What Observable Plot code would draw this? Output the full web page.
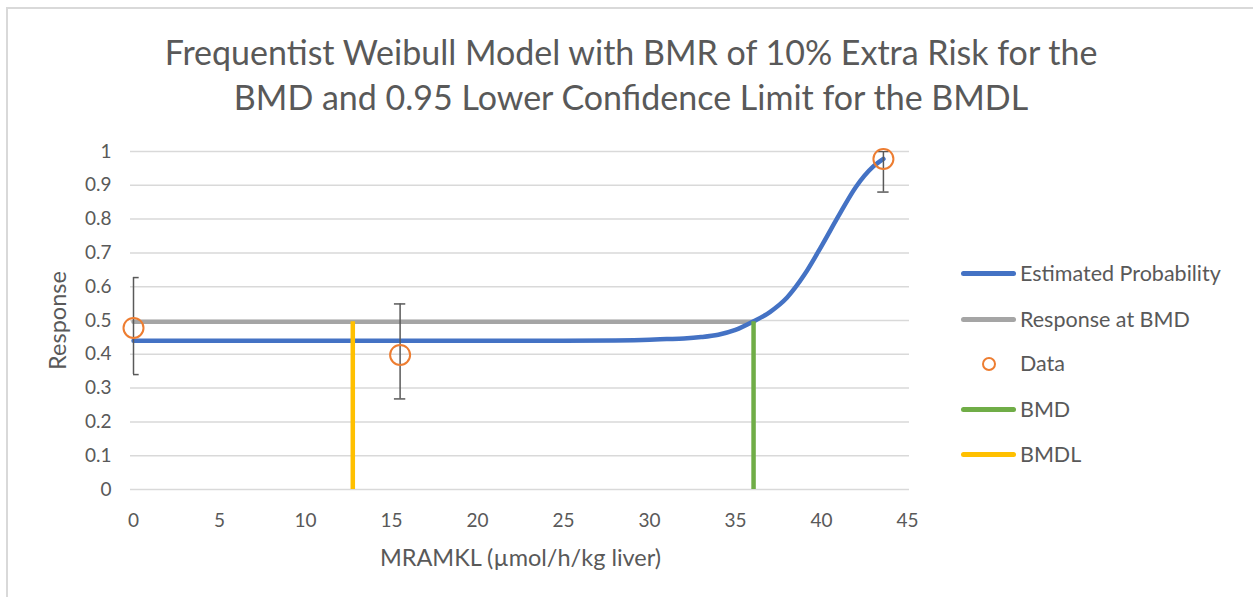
<!DOCTYPE html>
<html>
<head>
<meta charset="utf-8">
<script src="https://cdn.jsdelivr.net/npm/d3@7"></script>
<script src="https://cdn.jsdelivr.net/npm/@observablehq/plot@0.6"></script>
<style>
  html, body { margin: 0; padding: 0; background: #fff; }
  #wrap { position: relative; width: 1253px; height: 598px; overflow: hidden; font-family: Lato, "Open Sans", sans-serif; color: #595959; }
  #frame { position: absolute; left: 6px; top: 7px; width: 1260px; height: 590px; border-left: 2px solid #d9d9d9; border-top: 2px solid #d9d9d9; box-sizing: border-box; }
  #title { position: absolute; left: 0; width: 1262px; top: 29px; text-align: center; font-size: 34px; line-height: 45px; }
  #chart { position: absolute; left: 0; top: 0; }
  .leg { position: absolute; left: 961px; height: 26px; font-size: 21.5px; line-height: 26px; }
  .leg .sw { position: absolute; left: 0; top: 11px; width: 55px; height: 5px; border-radius: 3px; }
  .leg .dot { position: absolute; left: 21px; top: 7px; width: 10px; height: 10px; border: 2px solid #ed7d31; border-radius: 50%; }
  .leg span.t { position: absolute; left: 59px; top: 0; white-space: nowrap; }
</style>
</head>
<body>
<div id="wrap">
  <div id="frame"></div>
  <div id="chart"></div>
  <div id="title">Frequentist Weibull Model with BMR of 10% Extra Risk for the<br>BMD and 0.95 Lower Confidence Limit for the BMDL</div>
  <div id="legend"></div>
</div>
<script>
// Fitted curve
const curveX = [0, 5, 10, 15, 20, 25, 28, 30, 31, 32, 33, 34, 35, 36, 37, 38, 39, 40, 41, 42, 43, 43.6];
const curveY = [0.44, 0.44, 0.44, 0.44, 0.44, 0.4402, 0.441, 0.443, 0.445, 0.447, 0.451, 0.458, 0.472, 0.496, 0.525, 0.568, 0.635, 0.72, 0.81, 0.895, 0.955, 0.978];
// Observed data with error bars
const doseX = [0, 15.5, 43.6];
const respY = [0.478, 0.398, 0.978];
const errLo = [0.34, 0.268, 0.88];
const errHi = [0.627, 0.549, 1.0];
// BMD, BMDL, response at BMD
const bmd = 36.05;
const bmdl = 12.75;
const bmrResp = 0.496;
const xTicks = [0, 5, 10, 15, 20, 25, 30, 35, 40, 45];
const yTicks = [0, 0.1, 0.2, 0.3, 0.4, 0.5, 0.6, 0.7, 0.8, 0.9, 1];
const legendNames = ["Estimated Probability", "Response at BMD", "Data", "BMD", "BMDL"];
const legendColors = ["#4472c4", "#a5a5a5", "#ed7d31", "#70ad47", "#ffc000"];

const curve = curveX.map((x, i) => ({x, y: curveY[i]}));
const data = doseX.map((x, i) => ({x, y: respY[i], lo: errLo[i], hi: errHi[i]}));

const plot = Plot.plot({
  width: 1253,
  height: 598,
  marginLeft: 133,
  marginRight: 346,
  marginTop: 151,
  marginBottom: 109,
  style: {fontFamily: "Lato, 'Open Sans', sans-serif", fontSize: "19px", color: "#595959", background: "transparent", overflow: "visible"},
  x: {domain: [0, 45]},
  y: {domain: [0, 1]},
  marks: [
    Plot.ruleY(yTicks, {stroke: "#d9d9d9", strokeWidth: 1.5, insetLeft: -3, insetRight: -2}),
    Plot.axisX({ticks: xTicks, tickSize: 0, tickPadding: 24, fontSize: 19, fill: "#595959", label: null, tickFormat: d => String(d)}),
    Plot.axisY({ticks: yTicks, tickSize: 0, tickPadding: 22, fontSize: 19, fill: "#595959", label: null, tickFormat: d => String(d)}),
    Plot.lineY([{x: 0, y: bmrResp}, {x: bmd, y: bmrResp}], {x: "x", y: "y", stroke: "#a5a5a5", strokeWidth: 4.5}),
    Plot.line(curve, {x: "x", y: "y", stroke: "#4472c4", strokeWidth: 4.5, curve: "monotone-x"}),
    Plot.ruleX(data, {x: "x", y1: "lo", y2: "hi", stroke: "#595959", strokeWidth: 1.5}),
    Plot.ruleY(data, {y: "lo", x1: d => d.x - 0.33, x2: d => d.x + 0.33, stroke: "#595959", strokeWidth: 1.5, clip: true}),
    Plot.ruleY(data, {y: "hi", x1: d => d.x - 0.33, x2: d => d.x + 0.33, stroke: "#595959", strokeWidth: 1.5, clip: true}),
    Plot.dot(data, {x: "x", y: "y", r: 10, stroke: "#ed7d31", strokeWidth: 2, fill: "none"}),
    Plot.ruleX([bmd], {y1: 0, y2: bmrResp, stroke: "#70ad47", strokeWidth: 4.5}),
    Plot.ruleX([bmdl], {y1: 0, y2: bmrResp, stroke: "#ffc000", strokeWidth: 4.5}),
    Plot.text(["MRAMKL (µmol/h/kg liver)"], {frameAnchor: "bottom", lineAnchor: "middle", dy: 69, fontSize: 23.5, fill: "#595959"}),
    Plot.text(["Response"], {frameAnchor: "left", textAnchor: "middle", lineAnchor: "middle", dx: -75, rotate: -90, fontSize: 23.5, fill: "#595959"})
  ]
});
document.getElementById("chart").appendChild(plot);

// Legend
const legTops = [260, 306, 350, 396, 441];
const leg = document.getElementById("legend");
legendNames.forEach((name, i) => {
  const el = document.createElement("div");
  el.className = "leg";
  el.style.top = legTops[i] + "px";
  const sym = document.createElement("div");
  if (name === "Data") { sym.className = "dot"; } else { sym.className = "sw"; sym.style.background = legendColors[i]; }
  el.appendChild(sym);
  const t = document.createElement("span");
  t.className = "t";
  t.textContent = name;
  el.appendChild(t);
  leg.appendChild(el);
});
</script>
</body>
</html>
